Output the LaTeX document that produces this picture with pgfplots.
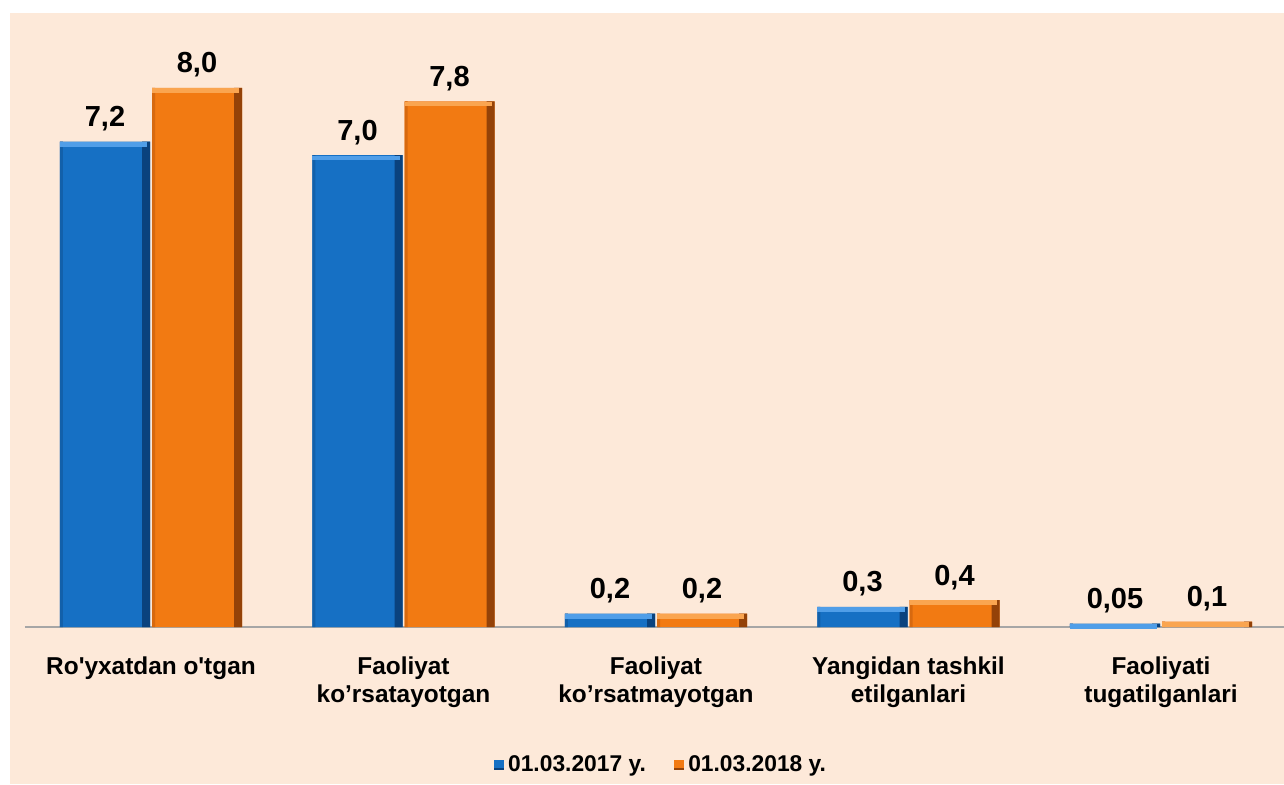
\documentclass[border=0pt]{standalone}
\usepackage{fontspec}
\setmainfont{Liberation Sans}
\usepackage{pgfplots}
\usepackage{pgfplotstable}
\pgfplotsset{compat=1.18}
\definecolor{bg}{HTML}{FDE9D9}
\definecolor{bface}{RGB}{22,112,196}
\definecolor{bdark}{RGB}{10,66,126}
\definecolor{bleft}{RGB}{18,96,170}
\definecolor{blight}{RGB}{80,158,232}
\definecolor{oface}{RGB}{242,122,18}
\definecolor{odark}{RGB}{148,66,8}
\definecolor{oleft}{RGB}{215,105,15}
\definecolor{olight}{RGB}{250,165,80}

\pgfplotstableread{
x y lab
0 7.2 7,2
1 7.0 7,0
2 0.2 0,2
3 0.3 0,3
4 0.05 0,05
}\dataA
\pgfplotstableread{
x y lab
0 8.0 8,0
1 7.8 7,8
2 0.2 0,2
3 0.4 0,4
4 0.08 0,1
}\dataB

\begin{document}
\begin{tikzpicture}
\useasboundingbox (0,0) rectangle (642pt,392pt);
\fill[bg] (5pt,0) rectangle (642pt,385.5pt);
\begin{axis}[
  at={(12.375pt,78.5pt)}, anchor=south west,
  scale only axis, width=629.6pt, height=303.3pt,
  xmin=-0.5, xmax=4.487, ymin=0, ymax=9,
  axis x line*=bottom, axis y line=none,
  x axis line style={-, draw=black!35, line width=1pt},
  ytick=\empty,
  xtick={0,1,2,3,4}, major tick length=0pt,
  xticklabels={{Ro\textquotesingle yxatdan o\textquotesingle tgan},{Faoliyat\\ko’rsatayotgan},{Faoliyat\\ko’rsatmayotgan},{Yangidan tashkil\\etilganlari},{Faoliyati\\tugatilganlari}},
  xticklabel style={font=\bfseries\fontsize{12.2}{14}\selectfont, align=center, text=black, anchor=north, inner sep=0pt, yshift=-14.5pt},
  ybar=1pt,
  point meta=explicit symbolic,
  legend columns=2,
  legend style={at={(0.506,-0.2275)}, anchor=center, draw=none, fill=none,
    font=\bfseries\fontsize{11.4}{13}\selectfont,
    /tikz/every even column/.append style={column sep=12pt}},
  clip=false,
  valnodes/.style={nodes near coords,
    every node near coord/.style={font=\bfseries\fontsize{14.5}{16}\selectfont, anchor=base, xshift=#1, yshift=7.5pt, inner sep=0pt, text=black}},
  topstrip/.style 2 args={draw=none, fill=none, bar width=45pt, nodes near coords={},
    every node near coord/.style={anchor=north, inner sep=0pt, minimum width=43.5pt, xshift=#2, minimum height=2.3pt, fill=#1}},
]
% faces
\addplot[fill=bface, draw=none, bar width=45pt, bar shift=-23pt, valnodes=-23pt,
  legend image code/.code={\fill[bface] (0pt,-2.6pt) rectangle (5.2pt,2.6pt); \fill[bdark] (0pt,-2.6pt) rectangle (5.2pt,-1.3pt);}]
  table[x=x, y=y, meta=lab] {\dataA};
\addlegendentry{01.03.2017 y.}
\addplot[fill=oface, draw=none, bar width=45pt, bar shift=23pt, valnodes=23pt,
  legend image code/.code={\fill[oface] (0pt,-2.6pt) rectangle (5.2pt,2.6pt); \fill[odark] (0pt,-2.6pt) rectangle (5.2pt,-1.3pt);}]
  table[x=x, y=y, meta=lab] {\dataB};
\addlegendentry{01.03.2018 y.}
% right dark edges
\addplot[forget plot, fill=bdark, draw=none, bar width=4pt, bar shift=-2.5pt] table[x=x, y=y, meta=lab] {\dataA};
\addplot[forget plot, fill=odark, draw=none, bar width=4pt, bar shift=43.5pt] table[x=x, y=y, meta=lab] {\dataB};
% left edges
\addplot[forget plot, fill=bleft, draw=none, bar width=1.5pt, bar shift=-44.75pt] table[x=x, y=y, meta=lab] {\dataA};
\addplot[forget plot, fill=oleft, draw=none, bar width=1.5pt, bar shift=1.25pt] table[x=x, y=y, meta=lab] {\dataB};
% top light edges
\addplot[forget plot, topstrip={blight}{-23.75pt}, bar shift=-23pt] table[x=x, y=y, meta=lab] {\dataA};
\addplot[forget plot, topstrip={olight}{22.25pt}, bar shift=23pt] table[x=x, y=y, meta=lab] {\dataB};
\end{axis}
\end{tikzpicture}
\end{document}
